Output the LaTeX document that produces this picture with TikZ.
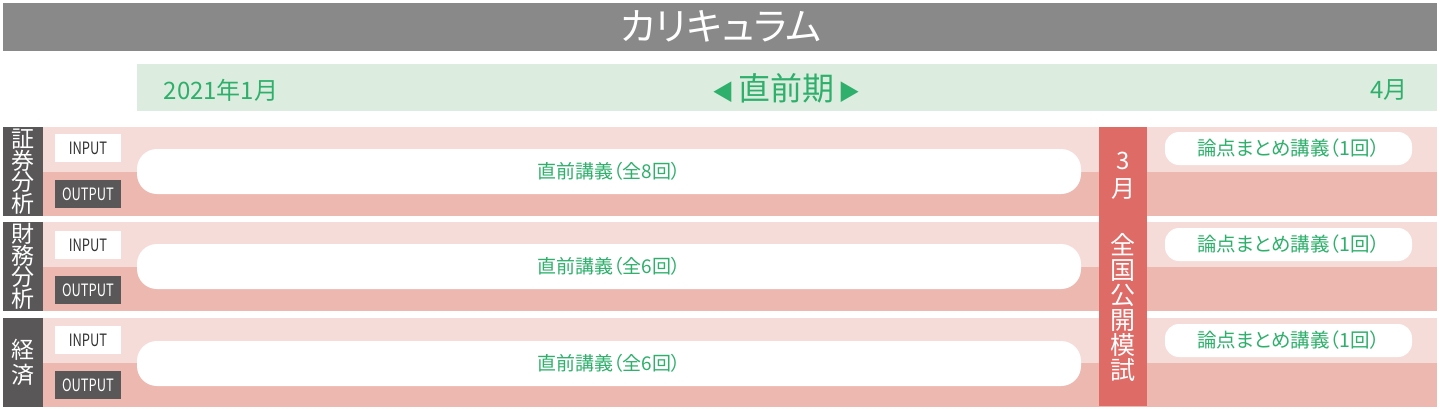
\documentclass[tikz,border=0pt]{standalone}
\usepackage{fontspec}
\setmainfont[RawFeature=+palt]{Noto Sans CJK JP}
\newfontfamily\narrowfont[FakeStretch=0.76]{Noto Sans CJK JP}
\usetikzlibrary{positioning}

\definecolor{titlegray}{HTML}{898989}
\definecolor{bandgreen}{HTML}{DCEDDF}
\definecolor{textgreen}{HTML}{2EB06C}
\definecolor{pinklight}{HTML}{F6DCD8}
\definecolor{pinkdark}{HTML}{EDB8B0}
\definecolor{labeldark}{HTML}{595757}
\definecolor{mockred}{HTML}{DF6B66}

\tikzset{
  box/.style = {anchor=north west, inner sep=0pt, outer sep=0pt},
  rowtop/.style = {box, fill=pinklight, minimum width=1394pt, minimum height=45pt},
  rowbot/.style = {box, fill=pinkdark, minimum width=1394pt, minimum height=44pt},
  subject/.style = {box, fill=labeldark, text=white, minimum width=40pt, minimum height=89pt,
    align=center, font=\fontsize{23}{21.5}\selectfont},
  inbox/.style = {box, fill=white, text=black!80, minimum width=66pt, minimum height=28pt,
    font=\narrowfont\fontsize{17}{17}\selectfont},
  outbox/.style = {inbox, fill=labeldark, text=white},
  lecture/.style = {box, fill=white, rounded corners=20pt, text=textgreen, minimum width=944pt,
    minimum height=45pt, font=\fontsize{19}{19}\selectfont},
  summary/.style = {box, fill=white, rounded corners=14pt, text=textgreen, minimum width=247pt,
    minimum height=33pt, font=\fontsize{19.5}{19.5}\selectfont}
}

\begin{document}
\begin{tikzpicture}[x=1pt, y=-1pt]
  \useasboundingbox (0,0) rectangle (1440,408);

  % title and period
  \node[box, fill=titlegray, minimum width=1434pt, minimum height=48pt] (title) at (3,3) {};
  \node[text=white, font=\fontsize{38}{38}\selectfont] (titletext) at (721,26) {カリキュラム};
  \node[box, fill=bandgreen, minimum width=1300pt, minimum height=47pt] (period) at (137,64) {};
  \node[text=textgreen, font=\fontsize{24}{24}\selectfont] (start) at (221,90) {2021年1月};
  \node[text=textgreen, font=\fontsize{32}{32}\selectfont] (phase) at (786,88)
    {{\fontsize{22}{22}\selectfont ◀}\hspace{4pt}直前期\hspace{4pt}{\fontsize{22}{22}\selectfont ▶}};
  \node[text=textgreen, font=\fontsize{24}{24}\selectfont] (end) at (1389,90) {4月};

  % 証券分析
  \node[rowtop] (secTop) at (43,127) {};
  \node[rowbot] (secBot) at (43,172) {};
  \node[subject] (secLabel) at (3,127) {証\\券\\分\\析};
  \node[inbox] (secIn) at (55,134) {INPUT};
  \node[outbox] (secOut) at (55,180) {OUTPUT};
  \node[lecture] (secLec) at (137,149) {直前講義（全8回）};
  \node[summary] (secSum) at (1165,132) {論点まとめ講義（1回）};

  % 財務分析
  \node[rowtop] (finTop) at (43,222) {};
  \node[rowbot] (finBot) at (43,267) {};
  \node[subject] (finLabel) at (3,222) {財\\務\\分\\析};
  \node[inbox] (finIn) at (55,231) {INPUT};
  \node[outbox] (finOut) at (55,276) {OUTPUT};
  \node[lecture] (finLec) at (137,244) {直前講義（全6回）};
  \node[summary] (finSum) at (1165,228) {論点まとめ講義（1回）};

  % 経済
  \node[rowtop] (ecoTop) at (43,318) {};
  \node[rowbot] (ecoBot) at (43,363) {};
  \node[subject, font=\fontsize{23}{25}\selectfont] (ecoLabel) at (3,318) {経\\済};
  \node[inbox] (ecoIn) at (55,326) {INPUT};
  \node[outbox] (ecoOut) at (55,371) {OUTPUT};
  \node[lecture] (ecoLec) at (137,341) {直前講義（全6回）};
  \node[summary] (ecoSum) at (1165,324) {論点まとめ講義（1回）};

  % mock exam
  \node[box, fill=mockred, minimum width=48pt, minimum height=279pt] (mock) at (1099,127) {};
  \node[text=white, align=center, font=\fontsize{24}{28}\selectfont] (mockMonth) at (1123,176) {3\\月};
  \node[text=white, align=center, font=\fontsize{25}{25}\selectfont] (mockName) at (1123,307)
    {全\\国\\公\\開\\模\\試};

\end{tikzpicture}
\end{document}
